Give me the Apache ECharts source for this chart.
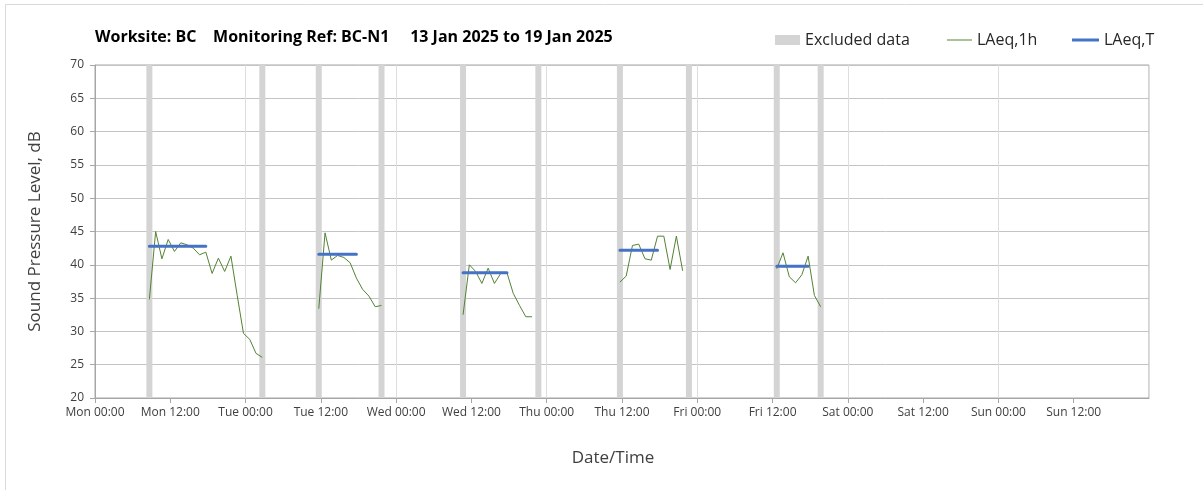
<!DOCTYPE html>
<html>
<head>
<meta charset="utf-8">
<script src="https://cdn.jsdelivr.net/npm/echarts@6/dist/echarts.min.js"></script>
<style>
html,body{margin:0;padding:0;background:#fff;}
#chart{width:1203px;height:490px;}
</style>
</head>
<body>
<div id="chart"></div>
<script>
// ---- data ----
const titleText = 'Worksite: BC    Monitoring Ref: BC-N1     13 Jan 2025 to 19 Jan 2025';
const weekStart = '2025-01-13 00:00';
const weekEnd = '2025-01-20 00:00';
const dayNames = ['Sun', 'Mon', 'Tue', 'Wed', 'Thu', 'Fri', 'Sat'];

// hourly LAeq,1h values, one array per monitoring period (first timestamp given)
const periodStarts = ['2025-01-13 08:40', '2025-01-14 11:40', '2025-01-15 10:40', '2025-01-16 11:40', '2025-01-17 12:40'];
const monLAeq1h = [34.8, 45.0, 40.9, 43.8, 42.0, 43.3, 43.0, 42.5, 41.5, 41.9, 38.7, 41.0, 39.0, 41.3, 35.4, 29.7, 28.8, 26.7, 26.1];
const tueLAeq1h = [33.4, 44.8, 40.7, 41.4, 41.1, 40.3, 38.0, 36.3, 35.3, 33.7, 33.9];
const wedLAeq1h = [32.5, 40.0, 39.0, 37.2, 39.5, 37.2, 38.7, 38.8, 35.7, 33.9, 32.2, 32.2];
const thuLAeq1h = [37.4, 38.3, 42.9, 43.1, 40.9, 40.7, 44.3, 44.3, 39.3, 44.3, 39.1];
const friLAeq1h = [39.4, 41.8, 38.2, 37.3, 38.5, 41.3, 35.4, 33.7];

// LAeq,T per period
const laeqTStart = ['2025-01-13 08:40', '2025-01-14 11:40', '2025-01-15 10:40', '2025-01-16 11:40', '2025-01-17 12:40'];
const laeqTEnd = ['2025-01-13 17:40', '2025-01-14 17:40', '2025-01-15 17:40', '2025-01-16 17:40', '2025-01-17 17:40'];
const laeqTValues = [42.8, 41.6, 38.8, 42.2, 39.8];

// excluded hours
const excludedTimes = ['2025-01-13 08:40', '2025-01-14 02:40', '2025-01-14 11:40', '2025-01-14 21:40',
  '2025-01-15 10:40', '2025-01-15 22:40', '2025-01-16 11:40', '2025-01-16 22:40',
  '2025-01-17 12:40', '2025-01-17 19:40'];
const excludedValue = 70;

// ---- helpers ----
const HOUR = 3600000, DAY = 24 * HOUR;
function ms(s) { const p = s.split(' '); return Date.parse(p[0] + 'T' + p[1] + ':00Z'); }
function pad(n) { return (n < 10 ? '0' : '') + n; }

const periodValues = [monLAeq1h, tueLAeq1h, wedLAeq1h, thuLAeq1h, friLAeq1h];
const laeq1hData = [];
periodValues.forEach((vals, i) => {
  const t0 = ms(periodStarts[i]);
  vals.forEach((v, k) => laeq1hData.push([t0 + k * HOUR, v]));
  laeq1hData.push([t0 + vals.length * HOUR, '-']);
});
const laeqTData = [];
laeqTValues.forEach((v, i) => {
  laeqTData.push([ms(laeqTStart[i]), v]);
  laeqTData.push([ms(laeqTEnd[i]), v]);
  laeqTData.push([ms(laeqTEnd[i]) + HOUR, '-']);
});
const excludedData = excludedTimes.map(t => [ms(t), excludedValue]);

const FONT = '"Open Sans", "Noto Sans", sans-serif';
const axisGray = '#a6a6a6';
const textGray = '#404040';

const chart = echarts.init(document.getElementById('chart'), null, {renderer: 'canvas'});
const legendBase = {
  orient: 'horizontal', top: 32, padding: 0, itemGap: 0,
  textStyle: {fontFamily: FONT, fontSize: 16, color: '#262626'},
  selectedMode: false
};
chart.setOption({
  animation: false,
  backgroundColor: '#fff',
  graphic: [{
    type: 'rect', z: -10, silent: true,
    shape: {x: 5.5, y: 4.5, width: 1400, height: 700},
    style: {fill: 'none', stroke: '#d9d9d9', lineWidth: 1}
  }],
  title: {
    text: titleText, left: 95, top: 29, padding: 0,
    textStyle: {fontFamily: FONT, fontSize: 16, fontWeight: 'bold', color: '#000'}
  },
  legend: [
    Object.assign({}, legendBase, {left: 775, data: ['Excluded data'], icon: 'rect', itemWidth: 25, itemHeight: 10}),
    Object.assign({}, legendBase, {left: 947, data: ['LAeq,1h'], icon: 'rect', itemWidth: 25, itemHeight: 1}),
    Object.assign({}, legendBase, {left: 1072, data: ['LAeq,T'], icon: 'rect', itemWidth: 27, itemHeight: 3})
  ],
  grid: {
    left: 95, right: 54, top: 65, bottom: 92,
    show: true, borderColor: axisGray, borderWidth: 1, backgroundColor: 'transparent'
  },
  xAxis: [{
    type: 'value', min: ms(weekStart), max: ms(weekEnd), interval: 12 * HOUR,
    name: 'Date/Time', nameLocation: 'middle', nameGap: 52,
    nameTextStyle: {fontFamily: FONT, fontSize: 17, color: textGray, padding: [0, 18, 0, 0]},
    axisLine: {show: true, lineStyle: {color: axisGray}},
    axisTick: {show: true, length: 5, lineStyle: {color: axisGray}},
    axisLabel: {
      fontFamily: FONT, fontSize: 12, color: textGray, margin: 9, showMaxLabel: false,
      formatter: v => { const d = new Date(v); return dayNames[d.getUTCDay()] + ' ' + pad(d.getUTCHours()) + ':' + pad(d.getUTCMinutes()); }
    },
    splitLine: {show: false}
  }, {
    type: 'value', min: ms(weekStart), max: ms(weekEnd), interval: DAY, position: 'top',
    axisLine: {show: false}, axisTick: {show: false}, axisLabel: {show: false},
    splitLine: {show: true, lineStyle: {color: '#dedede'}}
  }],
  yAxis: {
    type: 'value', min: 20, max: 70, interval: 5,
    name: 'Sound Pressure Level, dB', nameLocation: 'middle', nameGap: 51, nameRotate: 90,
    nameTextStyle: {fontFamily: FONT, fontSize: 17, color: textGray},
    axisLine: {show: true, lineStyle: {color: axisGray}},
    axisTick: {show: true, length: 5, lineStyle: {color: axisGray}},
    axisLabel: {fontFamily: FONT, fontSize: 12, color: textGray, margin: 11},
    splitLine: {show: true, lineStyle: {color: '#c4c4c4'}}
  },
  series: [{
    name: 'Excluded data', type: 'bar', xAxisIndex: 0, data: excludedData,
    barWidth: 6, color: '#d4d4d4', itemStyle: {color: '#d4d4d4'}, clip: true, silent: true
  }, {
    name: 'LAeq,1h', type: 'line', xAxisIndex: 0, data: laeq1hData,
    showSymbol: false, symbol: 'none', color: '#548235', connectNulls: false,
    lineStyle: {color: '#548235', width: 1}
  }, {
    name: 'LAeq,T', type: 'line', xAxisIndex: 0, data: laeqTData,
    showSymbol: false, symbol: 'none', color: '#4472c4', connectNulls: false,
    lineStyle: {color: '#4472c4', width: 3, cap: 'round'}
  }]
});
</script>
</body>
</html>
